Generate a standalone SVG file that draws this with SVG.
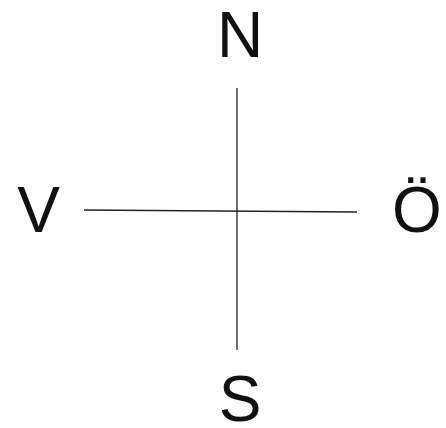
<svg xmlns="http://www.w3.org/2000/svg" width="446" height="428" viewBox="0 0 446 428">
<style>
text{font-family:"Liberation Sans",Arial,sans-serif;font-size:64px;fill:#111;text-anchor:middle}
line{stroke:#222;stroke-width:1.3}
</style>
<rect width="446" height="428" fill="#fff"/>
<g id="connectors">
<line x1="237" y1="88" x2="237" y2="350"/>
<line x1="84" y1="210" x2="357" y2="212"/>
</g>
<g id="N"><text x="240" y="57">N</text></g>
<g id="V"><text x="38.5" y="232">V</text></g>
<g id="O"><text x="417" y="232">Ö</text></g>
<g id="S"><text x="240" y="421">S</text></g>
</svg>
